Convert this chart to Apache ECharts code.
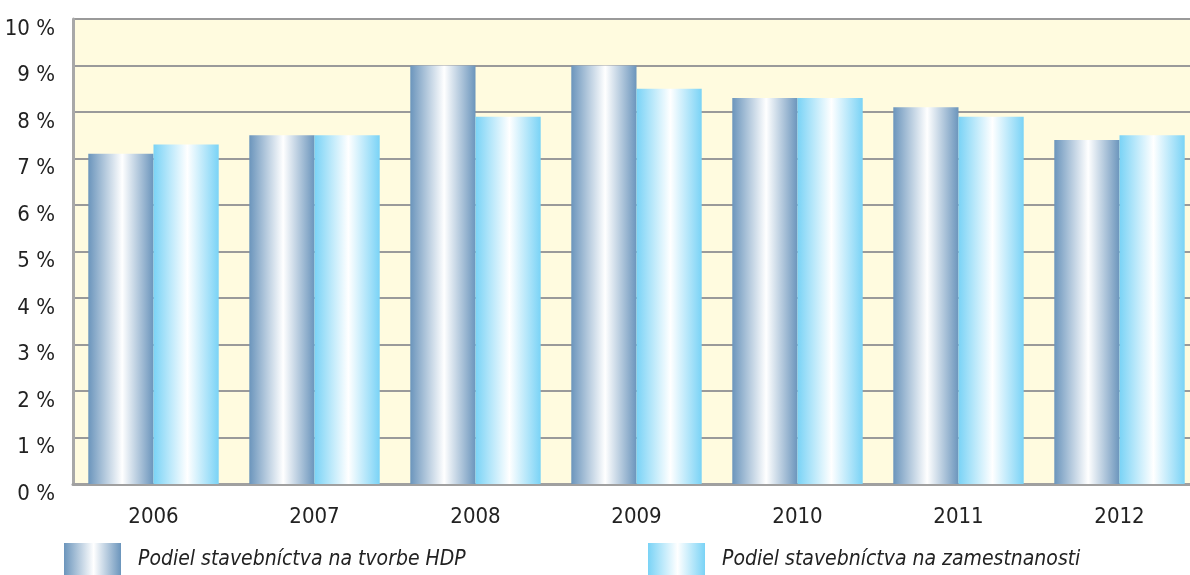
<!DOCTYPE html>
<html>
<head>
<meta charset="utf-8">
<script src="https://cdn.jsdelivr.net/npm/echarts@6/dist/echarts.min.js"></script>
<style>
  html, body { margin: 0; padding: 0; background: #fff; }
  #chart { width: 1190px; height: 575px; }
</style>
</head>
<body>
<div id="chart"></div>
<script>
const categories = ["2006", "2007", "2008", "2009", "2010", "2011", "2012"];
const hdpValues = [7.1, 7.5, 9.0, 9.0, 8.3, 8.1, 7.4];
const zamValues = [7.3, 7.5, 7.9, 8.5, 8.3, 7.9, 7.5];
const seriesNames = ["Podiel stavebníctva na tvorbe HDP", "Podiel stavebníctva na zamestnanosti"];

const font = "'Liberation Sans Narrow', 'DejaVu Sans Condensed', 'Liberation Sans', sans-serif";

function barGradient(edge) {
  return new echarts.graphic.LinearGradient(0, 0, 1, 0, [
    { offset: 0, color: edge },
    { offset: 0.52, color: "#ffffff" },
    { offset: 1, color: edge }
  ]);
}

const legendText = { fontFamily: font, fontStyle: "italic", fontSize: 21, color: "#222", lineHeight: 40, padding: [0, 0, 0, 12] };

var myChart = echarts.init(document.getElementById("chart"));

myChart.setOption({
  animation: false,
  grid: {
    left: 73,
    width: 1127,
    top: 19,
    bottom: 91,
    outerBoundsMode: "none",
    show: true,
    backgroundColor: "#fffbdf",
    borderWidth: 0
  },
  legend: [
    {
      data: [seriesNames[0]],
      left: 64,
      top: 540,
      padding: 0,
      icon: "rect",
      itemWidth: 57,
      itemHeight: 34,
      textStyle: legendText
    },
    {
      data: [seriesNames[1]],
      left: 648,
      top: 540,
      padding: 0,
      icon: "rect",
      itemWidth: 57,
      itemHeight: 34,
      textStyle: legendText
    }
  ],
  xAxis: {
    type: "category",
    data: categories,
    axisTick: { show: false },
    axisLine: { lineStyle: { color: "#a0a0a0", width: 3 } },
    axisLabel: { margin: 22, fontFamily: font, fontSize: 22, color: "#222" }
  },
  yAxis: {
    type: "value",
    min: 0,
    max: 10,
    interval: 1,
    axisLine: { show: true, lineStyle: { color: "#a8a8a8", width: 3 } },
    axisTick: { show: false },
    splitLine: { lineStyle: { color: "#9a9a9a", width: 2 } },
    axisLabel: {
      formatter: "{value} %",
      margin: 18,
      verticalAlign: "top",
      lineHeight: 20,
      fontFamily: font,
      fontSize: 22,
      color: "#222"
    }
  },
  series: [
    {
      name: seriesNames[0],
      type: "bar",
      data: hdpValues,
      barGap: "0%",
      barCategoryGap: "19%",
      itemStyle: { color: barGradient("#6b95bc") }
    },
    {
      name: seriesNames[1],
      type: "bar",
      data: zamValues,
      itemStyle: { color: barGradient("#7ad3f6") }
    }
  ]
});
</script>
</body>
</html>
